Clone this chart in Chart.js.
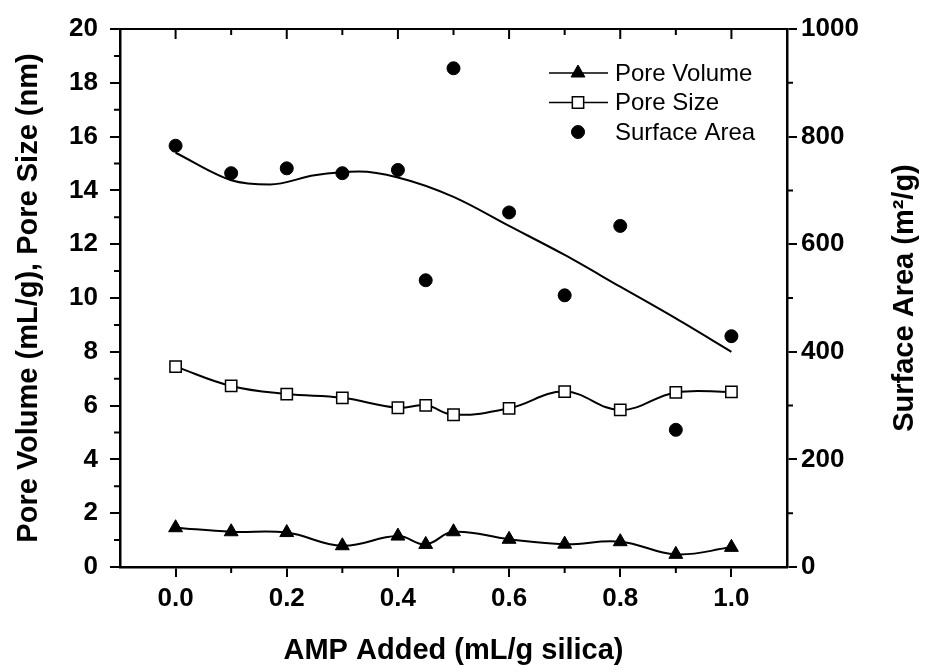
<!DOCTYPE html>
<html>
<head>
<meta charset="utf-8">
<script src="https://cdn.jsdelivr.net/npm/chart.js@4.4.1/dist/chart.umd.min.js"></script>
<style>
  html, body { margin: 0; padding: 0; background: #fff; }
</style>
</head>
<body>
<canvas id="chart" width="934" height="672"></canvas>
<script>
    // AMP added (mL/g silica)
    const amp = [0, 0.1, 0.2, 0.3, 0.4, 0.45, 0.5, 0.6, 0.7, 0.8, 0.9, 1.0];
    const poreVolume = [1.46, 1.31, 1.28, 0.79, 1.15, 0.84, 1.31, 1.03, 0.85, 0.94, 0.47, 0.73];
    const poreSize = [7.45, 6.73, 6.43, 6.29, 5.92, 6.01, 5.66, 5.90, 6.52, 5.84, 6.49, 6.51];
    const surfaceArea = [783, 732, 741, 732, 738, 533, 927, 659, 505, 634, 255, 429];

    // fitted trend through the surface area points
    const fitX = [0, 0.1, 0.17, 0.25, 0.33, 0.4, 0.5, 0.6, 0.7, 0.8, 0.9, 1.0];
    const fitY = [770, 719, 711, 728, 735, 724, 688, 634, 580, 521, 462, 400];

    const xTicks = [0, 0.2, 0.4, 0.6, 0.8, 1.0];
    const xMinor = [0.1, 0.3, 0.5, 0.7, 0.9];
    const yMinor = [1, 3, 5, 7, 9, 11, 13, 15, 17, 19];
    const y2Minor = [100, 300, 500, 700, 900];
    const y2Title = 'Surface Area (m²/g)';

    const pts = (xs, ys) => xs.map((v, i) => ({ x: v, y: ys[i] }));

    const family = '"Liberation Sans", Arial, sans-serif';
    const tickFont = { family, size: 26, weight: 'bold' };
    const titleFont = { family, size: 29, weight: 'bold' };

    // minor ticks, mirrored top ticks, top frame line, right title (reads upward)
    const axisExtras = {
        id: 'axisExtras',
        afterDraw(chart) {
            const { ctx, chartArea: a, scales: { x, y, y2 } } = chart;
            ctx.save();
            ctx.strokeStyle = '#000';
            ctx.lineWidth = 2;
            ctx.beginPath();
            ctx.moveTo(a.left - 1, a.top);
            ctx.lineTo(a.right + 1, a.top);
            xTicks.forEach(v => {
                const px = x.getPixelForValue(v);
                ctx.moveTo(px, a.top); ctx.lineTo(px, a.top + 10);
            });
            xMinor.forEach(v => {
                const px = x.getPixelForValue(v);
                ctx.moveTo(px, a.bottom); ctx.lineTo(px, a.bottom + 6);
                ctx.moveTo(px, a.top); ctx.lineTo(px, a.top + 6);
            });
            yMinor.forEach(v => {
                const py = y.getPixelForValue(v);
                ctx.moveTo(a.left, py); ctx.lineTo(a.left - 6, py);
            });
            y2Minor.forEach(v => {
                const py = y2.getPixelForValue(v);
                ctx.moveTo(a.right, py); ctx.lineTo(a.right + 6, py);
            });
            ctx.stroke();

            ctx.translate(905, (a.top + a.bottom) / 2);
            ctx.rotate(-Math.PI / 2);
            ctx.fillStyle = '#000';
            ctx.font = `bold ${titleFont.size}px ${family}`;
            ctx.textAlign = 'center';
            ctx.textBaseline = 'middle';
            ctx.fillText(y2Title, 0, 0);
            ctx.restore();
        }
    };

    // Origin-style legend: line - marker - line, then label
    const plotLegend = {
        id: 'plotLegend',
        afterDatasetsDraw(chart) {
            const ctx = chart.ctx;
            const items = chart.data.datasets.filter(d => d.label);
            ctx.save();
            items.forEach((d, i) => {
                const yy = 73 + i * 29.5;
                const cx = 578;
                if (d.showLine !== false) {
                    ctx.strokeStyle = '#000';
                    ctx.lineWidth = 1.5;
                    ctx.beginPath();
                    ctx.moveTo(549, yy); ctx.lineTo(608, yy);
                    ctx.stroke();
                }
                ctx.fillStyle = d.pointBackgroundColor;
                ctx.strokeStyle = '#000';
                ctx.lineWidth = d.pointBorderWidth;
                Chart.helpers.drawPoint(ctx, {
                    pointStyle: d.pointStyle, radius: d.pointRadius, rotation: 0, borderWidth: d.pointBorderWidth
                }, cx, yy);
                ctx.fillStyle = '#000';
                ctx.font = `24px ${family}`;
                ctx.textBaseline = 'middle';
                ctx.fillText(d.label, 615, yy + 1);
            });
            ctx.restore();
        }
    };

    new Chart(document.getElementById('chart').getContext('2d'), {
        type: 'line',
        data: {
            datasets: [
                {
                    label: 'Pore Volume',
                    data: pts(amp, poreVolume),
                    yAxisID: 'y',
                    borderColor: '#000',
                    borderWidth: 2,
                    tension: 0.4,
                    pointStyle: 'triangle',
                    pointRadius: 8,
                    pointBackgroundColor: '#000',
                    pointBorderColor: '#000',
                    pointBorderWidth: 1
                },
                {
                    label: 'Pore Size',
                    data: pts(amp, poreSize),
                    yAxisID: 'y',
                    borderColor: '#000',
                    borderWidth: 2,
                    tension: 0.4,
                    pointStyle: 'rect',
                    pointRadius: 8,
                    pointBackgroundColor: '#fff',
                    pointBorderColor: '#000',
                    pointBorderWidth: 1.5
                },
                {
                    label: 'Surface Area',
                    data: pts(amp, surfaceArea),
                    yAxisID: 'y2',
                    showLine: false,
                    pointStyle: 'circle',
                    pointRadius: 6.5,
                    pointBackgroundColor: '#000',
                    pointBorderColor: '#000',
                    pointBorderWidth: 1
                },
                {
                    data: pts(fitX, fitY),
                    yAxisID: 'y2',
                    borderColor: '#000',
                    borderWidth: 2,
                    cubicInterpolationMode: 'monotone',
                    pointRadius: 0
                }
            ]
        },
        options: {
            responsive: false,
            animation: false,
            layout: { padding: { top: 29, left: 0, right: 0, bottom: 0 } },
            plugins: { legend: { display: false }, tooltip: { enabled: false } },
            scales: {
                x: {
                    type: 'linear',
                    min: -0.1,
                    max: 1.1,
                    afterBuildTicks: s => { s.ticks = xTicks.map(v => ({ value: v })); },
                    afterFit: s => { s.height = 105; },
                    border: { color: '#000', width: 2.5 },
                    grid: { drawOnChartArea: false, color: '#000', lineWidth: 2, tickLength: 10 },
                    ticks: { color: '#000', font: tickFont, padding: 6, callback: v => v.toFixed(1), maxRotation: 0 },
                    title: { display: true, text: 'AMP Added (mL/g silica)', color: '#000', font: titleFont, padding: { bottom: 4 } }
                },
                y: {
                    position: 'left',
                    min: 0,
                    max: 20,
                    afterFit: s => { s.width = 120; },
                    border: { color: '#000', width: 2.5 },
                    grid: { drawOnChartArea: false, color: '#000', lineWidth: 2, tickLength: 10 },
                    ticks: { stepSize: 2, color: '#000', font: tickFont, padding: 12 },
                    title: { display: true, text: 'Pore Volume (mL/g), Pore Size (nm)', color: '#000', font: titleFont, padding: { top: 12 } }
                },
                y2: {
                    position: 'right',
                    min: 0,
                    max: 1000,
                    afterFit: s => { s.width = 147; },
                    border: { color: '#000', width: 2.5 },
                    grid: { drawOnChartArea: false, color: '#000', lineWidth: 2, tickLength: 10 },
                    ticks: { stepSize: 200, color: '#000', font: tickFont, padding: 4, callback: v => String(v) }
                }
            }
        },
        plugins: [axisExtras, plotLegend]
    });
</script>
</body>
</html>
